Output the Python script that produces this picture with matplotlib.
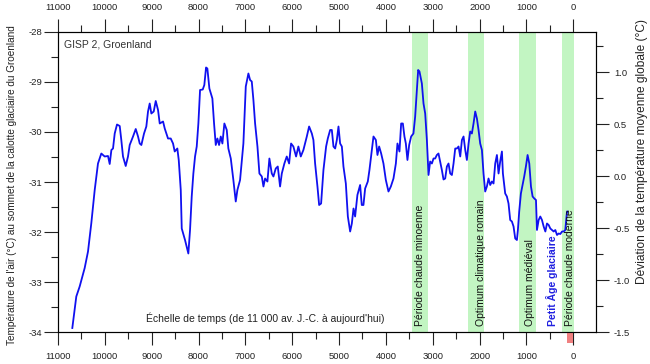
import matplotlib
matplotlib.use("Agg")
import matplotlib.pyplot as plt
import matplotlib.transforms as mtransforms
from matplotlib.patches import Rectangle
from matplotlib.ticker import MultipleLocator, FormatStrFormatter

plt.rcParams['font.family'] = ['Liberation Sans', 'DejaVu Sans']
plt.rcParams['axes.unicode_minus'] = False

# annees avant aujourd'hui et temperature GISP 2
annees = [10694, 10609, 10537, 10430, 10359, 10288, 10216, 10146, 10075, 10003,
          9932, 9896, 9860, 9825, 9789, 9740, 9682, 9648, 9612, 9554,
          9505, 9469, 9398, 9340, 9291, 9255, 9220, 9163, 9114, 9078,
          9042, 9007, 8956, 8913, 8864, 8828, 8757, 8721, 8651, 8593,
          8544, 8508, 8452, 8422, 8379, 8358, 8288, 8217, 8181, 8145,
          8110, 8074, 8038, 8003, 7967, 7910, 7876, 7839, 7811, 7768,
          7704, 7668, 7632, 7597, 7561, 7525, 7490, 7448, 7397, 7363,
          7311, 7256, 7205, 7170, 7113, 7042, 6991, 6935, 6899, 6863,
          6828, 6792, 6742, 6700, 6649, 6614, 6579, 6529, 6487, 6436,
          6401, 6351, 6308, 6259, 6222, 6167, 6116, 6066, 6024, 5975,
          5917, 5868, 5817, 5761, 5688, 5639, 5581, 5547, 5511, 5461,
          5425, 5383, 5333, 5276, 5240, 5190, 5154, 5119, 5083, 5047,
          5012, 4977, 4940, 4906, 4855, 4812, 4763, 4727, 4691, 4657,
          4608, 4550, 4515, 4479, 4443, 4386, 4351, 4301, 4265, 4214,
          4180, 4144, 4101, 4052, 4001, 3945, 3894, 3838, 3787, 3753,
          3710, 3674, 3638, 3604, 3574, 3540, 3503, 3461, 3412, 3375,
          3339, 3311, 3283, 3232, 3197, 3161, 3125, 3090, 3055, 3018,
          2983, 2948, 2912, 2877, 2841, 2805, 2770, 2734, 2698, 2663,
          2627, 2591, 2556, 2520, 2484, 2449, 2413, 2377, 2342, 2306,
          2271, 2235, 2200, 2164, 2129, 2093, 2057, 2022, 1987, 1950,
          1916, 1880, 1844, 1809, 1773, 1737, 1702, 1666, 1630, 1595,
          1560, 1523, 1502, 1453, 1417, 1382, 1346, 1310, 1275, 1239,
          1203, 1182, 1154, 1118, 1083, 1047, 1011, 975, 939, 903,
          868, 832, 796, 775, 739, 704, 668, 632, 596, 561,
          525, 490, 454, 418, 383, 347, 312, 276, 240, 205,
          170, 134, 122]
temperature = [-33.92, -33.29, -33.09, -32.72, -32.39, -31.82, -31.16, -30.63, -30.43, -30.49,
               -30.48, -30.64, -30.36, -30.33, -30.03, -29.85, -29.88, -30.16, -30.49, -30.68,
               -30.49, -30.26, -30.09, -29.94, -30.09, -30.23, -30.26, -30.03, -29.89, -29.59,
               -29.43, -29.63, -29.59, -29.38, -29.56, -29.83, -29.79, -29.93, -30.13, -30.13,
               -30.23, -30.39, -30.33, -30.56, -31.16, -31.93, -32.16, -32.43, -31.96, -31.29,
               -30.83, -30.49, -30.29, -29.83, -29.16, -29.15, -29.06, -28.71, -28.73, -29.13,
               -29.33, -29.83, -30.26, -30.13, -30.26, -30.09, -30.23, -29.83, -29.96, -30.33,
               -30.53, -30.96, -31.39, -31.16, -30.96, -30.23, -29.09, -28.83, -28.96, -28.99,
               -29.36, -29.83, -30.29, -30.83, -30.89, -31.09, -30.93, -30.99, -30.53, -30.83,
               -30.89, -30.73, -30.69, -31.09, -30.83, -30.63, -30.49, -30.63, -30.23, -30.29,
               -30.49, -30.29, -30.49, -30.36, -30.09, -29.89, -30.03, -30.16, -30.63, -31.09,
               -31.46, -31.43, -30.76, -30.29, -30.13, -29.96, -29.96, -30.29, -30.33, -30.16,
               -29.89, -30.23, -30.29, -30.69, -31.03, -31.69, -31.99, -31.83, -31.53, -31.69,
               -31.26, -31.06, -31.46, -31.46, -31.13, -30.99, -30.76, -30.36, -30.09, -30.16,
               -30.46, -30.29, -30.43, -30.63, -30.96, -31.19, -31.09, -30.93, -30.63, -30.23,
               -30.39, -29.83, -29.83, -30.09, -30.23, -30.56, -30.26, -30.09, -30.03, -29.69,
               -29.16, -28.76, -28.79, -29.03, -29.43, -29.63, -30.16, -30.86, -30.59, -30.63,
               -30.53, -30.53, -30.46, -30.43, -30.59, -30.76, -30.95, -30.93, -30.69, -30.63,
               -30.83, -30.86, -30.63, -30.33, -30.33, -30.29, -30.49, -30.16, -30.09, -30.36,
               -30.56, -30.23, -29.99, -30.03, -29.83, -29.59, -29.73, -29.96, -30.23, -30.36,
               -30.83, -31.19, -31.09, -30.93, -31.06, -30.99, -31.03, -30.63, -30.46, -30.83,
               -30.59, -30.39, -30.83, -31.23, -31.29, -31.43, -31.76, -31.79, -31.89, -32.13,
               -32.16, -31.96, -31.59, -31.23, -31.06, -30.89, -30.69, -30.46, -30.63, -31.09,
               -31.29, -31.33, -31.36, -31.96, -31.76, -31.69, -31.76, -31.89, -31.99, -31.83,
               -31.86, -31.93, -31.96, -31.99, -31.96, -32.06, -32.03, -32.04, -31.99, -31.99,
               -31.96, -31.59, -31.59]

# periodes chaudes (debut, fin) et leurs noms
periodes = [(3450, 3100), (2250, 1900), (1160, 800), (240, -20)]
noms_periodes = ["Période chaude minoenne", "Optimum climatique romain",
                 "Optimum médiéval", "Période chaude moderne"]
x_noms = [3280, 1970, 930, 80]
petit_age = "Petit Âge glaciaire"
x_petit_age = 460

fig = plt.figure(figsize=(6.5, 3.64), dpi=100)
ax = fig.add_axes([0.0892, 0.0879, 0.8277, 0.8242])

for (debut, fin) in periodes:
    ax.axvspan(fin, debut, color="#c2f5c2", lw=0, zorder=0)

ax.plot(annees, temperature, color="#1010f0", lw=1.3, zorder=2)

ax.set_xlim(11000, -485)
ax.set_ylim(-34, -28)

ax.xaxis.set_major_locator(MultipleLocator(1000))
ax.xaxis.set_minor_locator(MultipleLocator(500))
ax.yaxis.set_major_locator(MultipleLocator(1))
ax.yaxis.set_minor_locator(MultipleLocator(0.5))
ax.tick_params(which="both", direction="out", top=True, labeltop=True,
               labelsize=6.8, colors="#222222", width=0.8)
ax.tick_params(axis="x", which="major", length=9.5, pad=5)
ax.tick_params(axis="y", which="major", length=10, pad=1)
ax.tick_params(which="minor", length=5)
for s in ax.spines.values():
    s.set_linewidth(0.8)
    s.set_color("#222222")

ax.set_ylabel("Température de l'air (°C) au sommet de la calotte glaciaire du Groenland",
              fontsize=7.2, color="#222222")
ax.yaxis.set_label_coords(-0.077, 0.49)

ax2 = ax.twinx()
ax2.set_ylim(-1.5, 1.385)
ax2.yaxis.set_major_locator(MultipleLocator(0.5))
ax2.yaxis.set_minor_locator(MultipleLocator(0.25))
ax2.yaxis.set_major_formatter(FormatStrFormatter("%.1f"))
ax2.tick_params(which="both", direction="out", labelsize=6.8, colors="#222222", width=0.8)
ax2.tick_params(which="major", length=9, pad=4)
ax2.tick_params(which="minor", length=5)
ax2.set_ylabel("Déviation de la température moyenne globale (°C)",
               fontsize=8.6, color="#222222")
ax2.yaxis.set_label_coords(1.074, 0.6)

ax.text(10870, -28.25, "GISP 2, Groenland", fontsize=7.5, color="#333333", va="center")
ax.text(9130, -33.72, "Échelle de temps (de 11 000 av. J.-C. à aujourd'hui)",
        fontsize=7.5, color="#222222", va="center")

for nom, xn in zip(noms_periodes, x_noms):
    ax.text(xn, -33.88, nom, rotation=90, fontsize=7.5, color="#111111",
            ha="center", va="bottom")
ax.text(x_petit_age, -33.88, petit_age, rotation=90, fontsize=7.5,
        color="#2020e0", fontweight="bold", ha="center", va="bottom")

# petit repere rouge sous l'axe pour aujourd'hui
trans = mtransforms.blended_transform_factory(ax.transData, ax.transAxes)
ax.add_patch(Rectangle((130, 0), -130, -0.038, transform=trans, clip_on=False,
                       facecolor="#f08080", edgecolor="none", zorder=3))

fig.savefig("out.png", dpi=100)
